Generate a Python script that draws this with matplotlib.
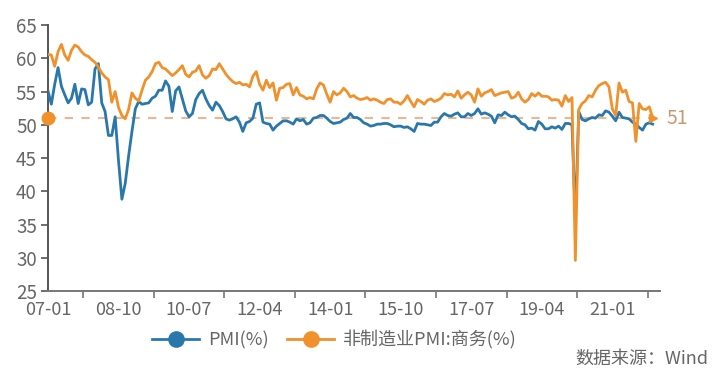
import numpy as np
import matplotlib.pyplot as plt
from matplotlib.lines import Line2D

plt.rcParams['font.family'] = ['Noto Sans CJK SC', 'DejaVu Sans']

# monthly, 2007-01 .. 2022-01
pmi = [
    55.1, 53.1, 56.1, 58.6, 55.8, 54.5, 53.3, 54.0, 56.1, 53.2, 55.4, 55.3,
    53.0, 53.4, 58.4, 59.2, 53.3, 52.0, 48.4, 48.4, 51.2, 44.6, 38.8, 41.2,
    45.3, 49.0, 52.4, 53.5, 53.1, 53.2, 53.3, 54.0, 54.3, 55.2, 55.2, 56.6,
    55.8, 52.0, 55.1, 55.7, 53.9, 52.1, 51.2, 51.7, 53.8, 54.7, 55.2, 53.9,
    52.9, 52.2, 53.4, 52.9, 52.0, 50.9, 50.7, 50.9, 51.2, 50.4, 49.0, 50.3,
    50.5, 51.0, 53.1, 53.3, 50.4, 50.2, 50.1, 49.2, 49.8, 50.2, 50.6, 50.6,
    50.4, 50.1, 50.9, 50.6, 50.8, 50.1, 50.3, 51.0, 51.1, 51.4, 51.4, 51.0,
    50.5, 50.2, 50.3, 50.4, 50.8, 51.0, 51.7, 51.1, 51.1, 50.8, 50.3, 50.1,
    49.8, 49.9, 50.1, 50.1, 50.2, 50.2, 50.0, 49.7, 49.8, 49.8, 49.6, 49.7,
    49.4, 49.0, 50.2, 50.1, 50.1, 50.0, 49.9, 50.4, 50.4, 51.2, 51.7, 51.4,
    51.3, 51.6, 51.8, 51.2, 51.2, 51.7, 51.4, 51.7, 52.4, 51.6, 51.8, 51.6,
    51.3, 50.3, 51.5, 51.4, 51.9, 51.5, 51.2, 51.3, 50.8, 50.2, 50.0, 49.4,
    49.5, 49.2, 50.5, 50.1, 49.4, 49.4, 49.7, 49.5, 49.8, 49.3, 50.2, 50.2,
    50.0, 35.7, 52.0, 50.8, 50.6, 50.9, 51.1, 51.0, 51.5, 51.4, 52.1, 51.9,
    51.3, 50.6, 51.9, 51.1, 51.0, 50.9, 50.4, 50.1, 49.6, 49.2, 50.1, 50.3,
    50.1,
]
non_mfg = [
    60.6, 60.5, 58.8, 61.0, 62.1, 60.5, 59.7, 61.2, 62.0, 61.7, 61.0, 60.5,
    60.3, 59.8, 59.4, 58.7, 57.8, 57.2, 56.8, 53.4, 55.0, 52.6, 51.4, 50.9,
    52.3, 54.8, 54.0, 53.6, 55.2, 56.7, 57.2, 58.0, 59.2, 59.4, 58.6, 58.4,
    57.9, 57.4, 57.8, 58.3, 58.9, 57.6, 57.2, 57.9, 58.1, 58.9, 57.5, 57.0,
    57.4, 58.4, 58.3, 59.2, 58.4, 57.6, 57.0, 56.5, 56.2, 56.4, 56.0, 56.1,
    55.7, 57.3, 58.0, 56.1, 55.2, 56.7, 55.6, 56.3, 53.7, 55.5, 55.6, 56.1,
    56.2, 54.5, 55.6, 54.5, 54.3, 53.9, 54.1, 53.9, 55.4, 56.3, 56.0, 54.6,
    53.4, 55.0, 54.5, 54.8, 55.5, 55.0, 54.2, 54.4, 54.0, 53.8, 53.9, 54.1,
    53.7, 53.9, 53.7, 53.4, 53.2, 53.8, 53.9, 53.4, 53.4, 53.1, 53.6, 54.4,
    53.5, 52.7, 53.8, 53.5, 53.1, 53.7, 53.9, 53.5, 53.7, 54.0, 54.7, 54.5,
    54.6, 54.2, 55.1, 54.0, 54.5, 54.9, 54.5, 53.4, 55.4, 54.3, 54.8, 55.0,
    55.3, 54.4, 54.6, 54.8, 54.9, 55.0, 54.0, 54.2, 54.9, 53.9, 53.4, 53.8,
    54.7, 54.3, 54.8, 54.3, 54.3, 54.2, 53.7, 53.8, 53.7, 52.8, 54.4, 53.5,
    54.1, 29.6, 52.3, 53.2, 53.6, 54.4, 54.2, 55.2, 55.9, 56.2, 56.4, 55.7,
    52.4, 51.4, 56.3, 54.9, 55.2, 53.5, 53.3, 47.5, 53.2, 52.4, 52.3, 52.7,
    51.1,
]
tick_labels = ["07-01", "08-10", "10-07", "12-04", "14-01", "15-10", "17-07", "19-04", "21-01"]
ref_value = 51

BLUE = "#2a78ab"
ORANGE = "#f0912c"
GREY = "#666666"

x = np.arange(len(pmi))

fig = plt.figure(figsize=(7.15, 3.69), dpi=100)
ax = fig.add_axes([0.0671, 0.2114, 0.856, 0.7206])

ax.plot(x, pmi, color=BLUE, lw=2, zorder=3)
ax.plot(x, non_mfg, color=ORANGE, lw=2, zorder=4)

# reference line at last value
ax.plot([0, x[-1]], [ref_value, ref_value], color="#e6b994", lw=1.5, ls=(0, (4, 4)), zorder=2)
ax.plot([0], [ref_value], "o", color=ORANGE, ms=9, clip_on=False, zorder=6)
ax.plot([x[-1]], [ref_value], ">", color=ORANGE, ms=6, clip_on=False, zorder=6)
ax.text(x[-1] + 4, ref_value, str(ref_value), color="#c99a72", fontsize=14, va="center", ha="left")

ax.set_xlim(0, 182.2)
ax.set_ylim(25, 65)
ax.set_yticks(np.arange(25, 66, 5))
ax.set_xticks(np.arange(len(tick_labels)) * 21)
ax.set_xticklabels(tick_labels)
ax.set_xticks(np.arange(len(tick_labels)) * 21 + 10.5, minor=True)

for s in ["top", "right"]:
    ax.spines[s].set_visible(False)
ax.spines["left"].set_color("#555555")
ax.spines["bottom"].set_color("#777777")
ax.spines["left"].set_linewidth(1.4)
ax.spines["bottom"].set_linewidth(1.4)

ax.tick_params(axis="y", length=5, width=1.2, color="#555555", labelcolor=GREY, labelsize=13.5, pad=3)
ax.tick_params(axis="x", which="major", length=0, labelcolor=GREY, labelsize=13, pad=7)
ax.tick_params(axis="x", which="minor", length=5, width=1.2, color="#777777")

handles = [
    Line2D([], [], color=BLUE, lw=2, marker="o", ms=11, label="PMI(%)"),
    Line2D([], [], color=ORANGE, lw=2, marker="o", ms=11, label="非制造业PMI:商务(%)"),
]
fig.legend(handles=handles, loc="center", bbox_to_anchor=(0.468, 0.078), ncol=2, frameon=False,
           fontsize=13, labelcolor=GREY, handlelength=2.6, columnspacing=1.0, handletextpad=0.5)

fig.text(0.99, 0.028, "数据来源：Wind", color=GREY, fontsize=13, ha="right", va="center")

fig.savefig("out.png", dpi=100)
